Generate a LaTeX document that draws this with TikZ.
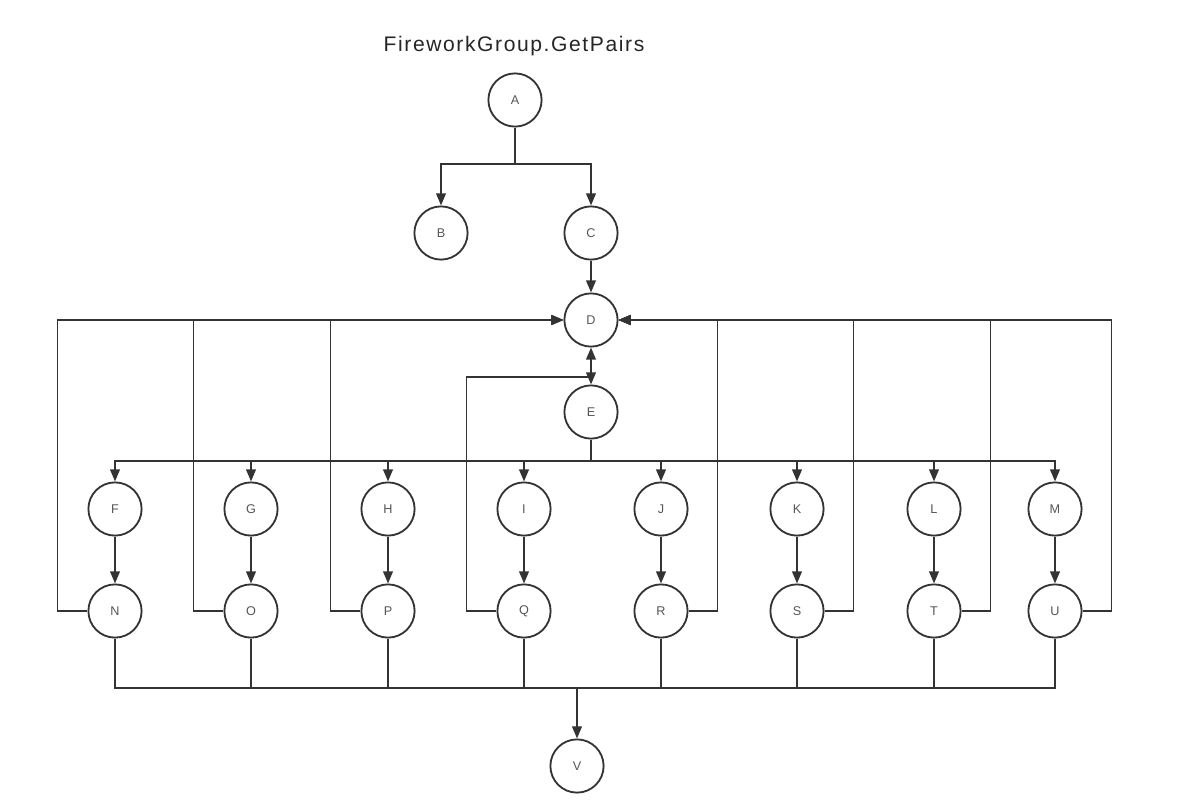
\documentclass[tikz,border=0pt]{standalone}
\usepackage{fontspec}
\setmainfont{Liberation Sans}
\newfontfamily\titlefont[LetterSpace=7.5]{Liberation Sans}
\usetikzlibrary{arrows.meta}
\definecolor{edge}{HTML}{333333}
\definecolor{label}{HTML}{555555}
\tikzset{
  vertex/.style={circle, draw=edge, line width=1.3pt, minimum size=1.33cm, inner sep=0pt, text=label, font=\fontsize{9}{11}\selectfont},
  link/.style={draw=edge, line width=1.3pt},
  >={Triangle[length=0.3cm, width=0.24cm]}
}
\begin{document}
\begin{tikzpicture}[x=0.025cm, y=-0.025cm]
    \useasboundingbox (0,0) rectangle (1178,808);
    \node[font=\titlefont\fontsize{15}{18}\selectfont, text=black!85] (title) at (514,46) {FireworkGroup.GetPairs};
    % top part
    \node[vertex] (A) at (515,100) {A};
    \node[vertex] (B) at (441,233) {B};
    \node[vertex] (C) at (591,233) {C};
    \node[vertex] (D) at (591,320) {D};
    \node[vertex] (E) at (591,412) {E};
    \node[vertex] (V) at (577,766) {V};
    \coordinate (abus) at (515,164);
    \coordinate (ebus) at (591,461);
    \coordinate (vbus) at (577,688);
    \coordinate (qjoin) at (591,377);
    \draw[link] (A) -- (abus);
    \draw[link, ->] (abus) -| (B);
    \draw[link, ->] (abus) -| (C);
    \draw[link, ->] (C) -- (D);
    \draw[link, <->] (D) -- (E);
    \draw[link] (E) -- (ebus);
    % the two rows
    \foreach \up/\down/\x in {F/N/115, G/O/251, H/P/388, I/Q/524, J/R/661, K/S/797, L/T/934, M/U/1055} {
      \node[vertex] (\up) at (\x,509) {\up};
      \node[vertex] (\down) at (\x,611) {\down};
      \draw[link, ->] (ebus) -| (\up);
      \draw[link, ->] (\up) -- (\down);
      \draw[link] (\down) |- (vbus);
    }
    \draw[link, ->] (vbus) -- (V);
    % loops back to D
    \foreach \n in {N, O, P} \draw[link, ->] (\n.west) -- ++(-30,0) |- (D.west);
    \foreach \n in {R, S, T, U} \draw[link, ->] (\n.east) -- ++(29,0) |- (D.east);
    \draw[link] (Q.west) -- ++(-30,0) |- (qjoin);
  \end{tikzpicture}
\end{document}
